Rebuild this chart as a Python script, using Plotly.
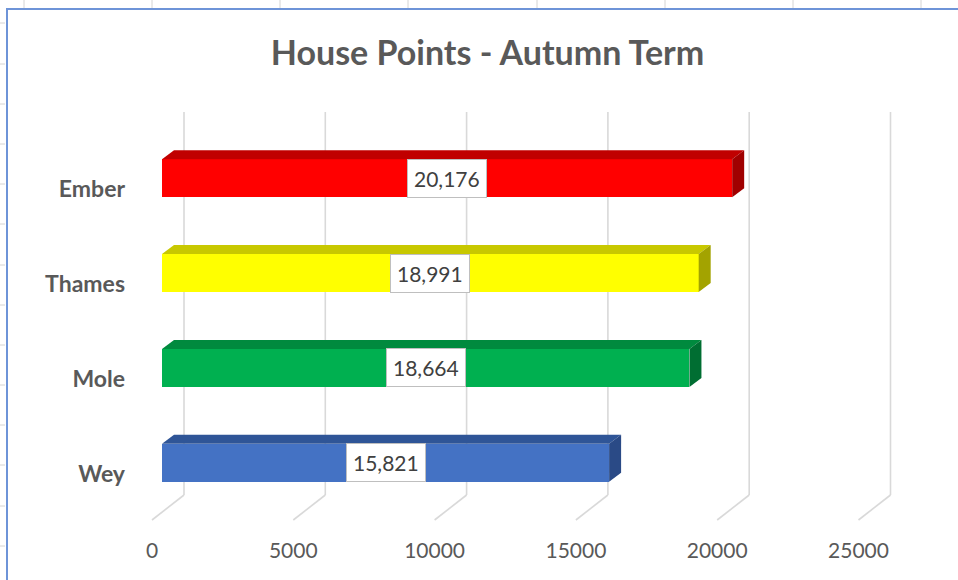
import plotly.graph_objects as go

# ---- data ----
houses = ["Wey", "Mole", "Thames", "Ember"]
points = [15821, 18664, 18991, 20176]
front_colors = ["#4472C4", "#00B050", "#FFFF00", "#FF0000"]
top_colors = ["#2F5597", "#008A3E", "#C8C800", "#C00000"]
side_colors = ["#2A4A86", "#006E32", "#A3A300", "#A00000"]
tick_vals = [0, 5000, 10000, 15000, 20000, 25000]
tick_text = ["0", "5000", "10000", "15000", "20000", "25000"]
title_text = "House Points - Autumn Term"

# ---- geometry ----
W, H = 958, 580
ZERO_PX = 162
ML, MR, MT, MB = 138, 33, 107, 46
PX_PER_X = 0.02826
XMIN = -(ZERO_PX - ML) / PX_PER_X
XMAX = (W - MR - ZERO_PX) / PX_PER_X
YMIN, YMAX = -0.75, 3.75
pw = W - ML - MR
ph = H - MT - MB
px_per_y = ph / (YMAX - YMIN)
BAR_W = 0.40
DX = 12 / PX_PER_X      # depth offset in x units
DY = 9 / px_per_y       # depth offset in y units

def px2paper_x(px):
    return (px - ML) / pw

def py2paper_y(py):
    return (H - MB - py) / ph

ypos = list(range(len(houses)))

fig = go.Figure()

# back-plane gridlines and floor lines
back_off = 22 / PX_PER_X
front_off = -10 / PX_PER_X
grid_top = YMAX - (112 - MT) / px_per_y
grid_bot = YMIN + (H - MB - 495) / px_per_y
floor_front = YMIN + (H - MB - 520) / px_per_y
shapes = []
for v in tick_vals:
    shapes.append(dict(type="line", xref="x", yref="y", layer="below",
                       x0=v + back_off, x1=v + back_off, y0=grid_bot, y1=grid_top,
                       line=dict(color="#D9D9D9", width=1.6)))
    shapes.append(dict(type="line", xref="x", yref="y", layer="below",
                       x0=v + back_off, x1=v + front_off, y0=grid_bot, y1=floor_front,
                       line=dict(color="#D9D9D9", width=1.6)))

# spreadsheet decorations (outside the chart frame)
for gx in [24, 152, 280, 408, 537, 665, 793, 921]:
    shapes.append(dict(type="line", xref="paper", yref="paper",
                       x0=px2paper_x(gx), x1=px2paper_x(gx),
                       y0=py2paper_y(0), y1=py2paper_y(8),
                       line=dict(color="#D4D4D4", width=1)))
for gy in [23, 64, 104, 144, 184, 224, 265, 305, 345, 385, 425, 465, 506, 546]:
    shapes.append(dict(type="line", xref="paper", yref="paper",
                       x0=px2paper_x(0), x1=px2paper_x(5),
                       y0=py2paper_y(gy), y1=py2paper_y(gy),
                       line=dict(color="#D4D4D4", width=1)))
# chart frame border (top and left visible)
shapes.append(dict(type="path", xref="paper", yref="paper",
                   path="M {x0} {y0} L {x1} {y1} L {x2} {y2}".format(
                       x0=px2paper_x(7), y0=py2paper_y(H + 5),
                       x1=px2paper_x(7), y1=py2paper_y(9),
                       x2=px2paper_x(W + 5), y2=py2paper_y(9)),
                   line=dict(color="#6E94D8", width=2)))

# front faces
fig.add_trace(go.Bar(
    x=points, y=ypos, orientation="h", width=BAR_W,
    marker=dict(color=front_colors, line=dict(width=0)),
    hoverinfo="skip", showlegend=False,
))

# top and side faces
for i, (v, yc) in enumerate(zip(points, ypos)):
    yt = yc + BAR_W / 2
    yb = yc - BAR_W / 2
    fig.add_trace(go.Scatter(
        x=[0, DX, v + DX, v, 0], y=[yt, yt + DY, yt + DY, yt, yt],
        fill="toself", fillcolor=top_colors[i], mode="lines",
        line=dict(width=0, color=top_colors[i]), hoverinfo="skip", showlegend=False))
    fig.add_trace(go.Scatter(
        x=[v, v + DX, v + DX, v, v], y=[yb, yb + DY, yt + DY, yt, yb],
        fill="toself", fillcolor=side_colors[i], mode="lines",
        line=dict(width=0, color=side_colors[i]), hoverinfo="skip", showlegend=False))

# data labels
annotations = []
for v, yc in zip(points, ypos):
    annotations.append(dict(
        x=v / 2, y=yc, xref="x", yref="y", text=f"{v:,}", showarrow=False,
        font=dict(family="Lato", size=21, color="#404040"),
        bgcolor="#FFFFFF", bordercolor="#BFBFBF", borderwidth=1, borderpad=6))

fig.update_layout(
    width=W, height=H,
    margin=dict(l=ML, r=MR, t=MT, b=MB),
    paper_bgcolor="#FFFFFF", plot_bgcolor="#FFFFFF",
    title=dict(text=title_text, xref="container", yref="container",
               x=487.5 / W, y=1 - 53 / H, xanchor="center", yanchor="middle",
               font=dict(family="Lato", size=34, color="#595959", weight="bold")),
    xaxis=dict(range=[XMIN, XMAX], tickvals=tick_vals, ticktext=tick_text,
               showgrid=False, zeroline=False, showline=False, ticks="",
               ticklabelshift=-10, ticklabelstandoff=2,
               tickfont=dict(family="Lato", size=21, color="#595959")),
    yaxis=dict(range=[YMIN, YMAX], tickvals=ypos, ticktext=houses,
               showgrid=False, zeroline=False, showline=False, ticks="",
               ticklabelshift=11, ticklabelstandoff=12,
               tickfont=dict(family="Lato", size=23, color="#595959", weight="bold")),
    shapes=shapes, annotations=annotations,
    bargap=0,
)

fig.write_html("out.html", config={"displayModeBar": False},
               post_script="document.body.style.margin='0px';")
